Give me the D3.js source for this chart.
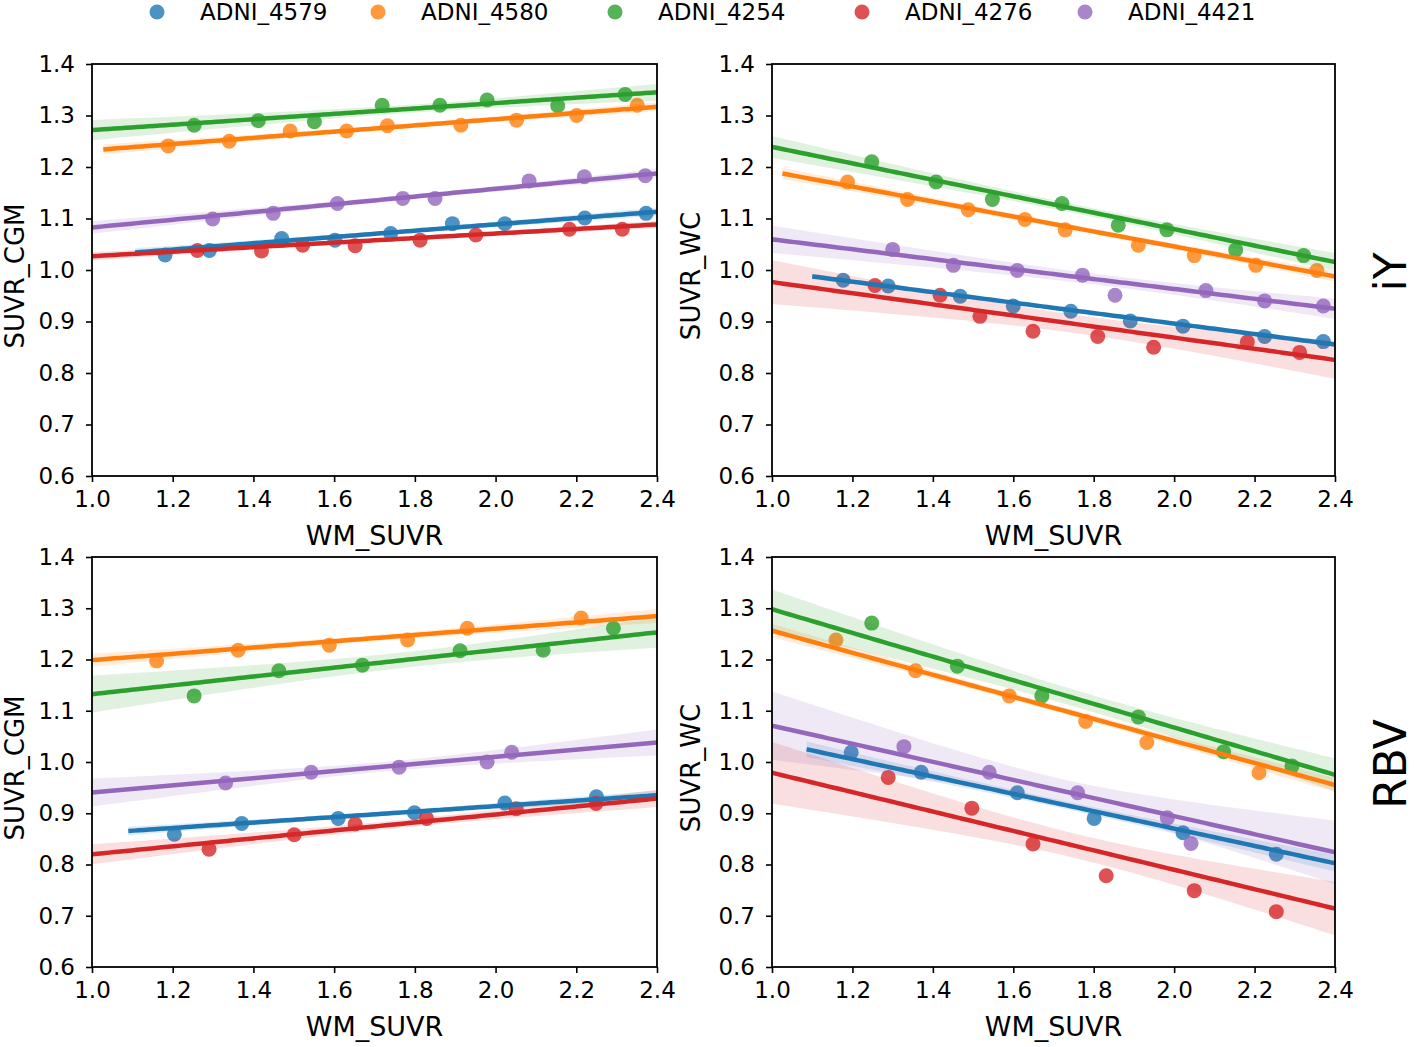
<!DOCTYPE html>
<html><head><meta charset="utf-8">
<script src="https://cdn.jsdelivr.net/npm/d3@7"></script>
<style>body{margin:0;background:#fff} text{font-family:"DejaVu Sans",sans-serif;fill:#000}</style>
</head><body><svg id="c" width="1418" height="1047"></svg>
<script>
const seriesNames = ["ADNI_4579","ADNI_4580","ADNI_4254","ADNI_4276","ADNI_4421"];
const seriesColors = ["#1f77b4","#ff7f0e","#2ca02c","#d62728","#9467bd"];
const xTicks = [1.0,1.2,1.4,1.6,1.8,2.0,2.2,2.4];
const yTicks = [0.6,0.7,0.8,0.9,1.0,1.1,1.2,1.3,1.4];
const xLabel = "WM_SUVR";
const yLabels = ["SUVR_CGM","SUVR_WC"];
const rowLabels = ["iY","RBV"];

// scatter points [WM_SUVR, SUVR] per series (order as seriesNames)
const iyCgmPoints = [
  [[1.181,1.029],[1.291,1.038],[1.470,1.061],[1.602,1.058],[1.740,1.071],[1.893,1.090],[2.023,1.090],[2.221,1.101],[2.373,1.110]],
  [[1.189,1.241],[1.340,1.250],[1.491,1.270],[1.631,1.270],[1.732,1.280],[1.914,1.281],[2.052,1.291],[2.201,1.300],[2.351,1.320]],
  [[1.253,1.281],[1.412,1.290],[1.551,1.288],[1.719,1.320],[1.862,1.320],[1.979,1.330],[2.154,1.319],[2.321,1.341]],
  [[1.261,1.038],[1.420,1.037],[1.522,1.048],[1.652,1.047],[1.813,1.058],[1.951,1.068],[2.183,1.079],[2.314,1.079]],
  [[1.299,1.099],[1.449,1.110],[1.608,1.129],[1.770,1.139],[1.850,1.139],[2.083,1.173],[2.220,1.181],[2.371,1.183]]
];
const iyWcPoints = [
  [[1.177,0.980],[1.289,0.969],[1.468,0.949],[1.600,0.930],[1.743,0.920],[1.891,0.901],[2.022,0.891],[2.225,0.871],[2.371,0.861]],
  [[1.188,1.171],[1.337,1.137],[1.488,1.117],[1.629,1.098],[1.729,1.078],[1.911,1.048],[2.050,1.028],[2.203,1.009],[2.355,0.999]],
  [[1.248,1.210],[1.408,1.171],[1.548,1.137],[1.721,1.129],[1.861,1.087],[1.982,1.078],[2.153,1.039],[2.322,1.028]],
  [[1.256,0.970],[1.418,0.951],[1.517,0.910],[1.649,0.881],[1.810,0.871],[1.949,0.850],[2.182,0.860],[2.312,0.840]],
  [[1.300,1.040],[1.451,1.009],[1.610,0.999],[1.772,0.990],[1.853,0.951],[2.079,0.960],[2.225,0.940],[2.371,0.930]]
];
const rbvCgmPoints = [
  [[1.204,0.859],[1.371,0.880],[1.610,0.890],[1.799,0.901],[2.023,0.920],[2.250,0.932]],
  [[1.160,1.197],[1.362,1.218],[1.588,1.228],[1.782,1.238],[1.930,1.261],[2.212,1.281]],
  [[1.253,1.129],[1.463,1.178],[1.670,1.189],[1.912,1.217],[2.118,1.218],[2.292,1.261]],
  [[1.290,0.830],[1.501,0.858],[1.652,0.879],[1.829,0.890],[2.051,0.909],[2.249,0.919]],
  [[1.331,0.959],[1.543,0.980],[1.761,0.990],[1.979,1.000],[2.040,1.019]]
];
const rbvWcPoints = [
  [[1.197,1.019],[1.371,0.980],[1.610,0.940],[1.801,0.890],[2.022,0.862],[2.254,0.820]],
  [[1.159,1.238],[1.357,1.178],[1.590,1.129],[1.780,1.079],[1.932,1.038],[2.211,0.979]],
  [[1.248,1.271],[1.461,1.187],[1.671,1.129],[1.911,1.088],[2.123,1.020],[2.293,0.992]],
  [[1.289,0.970],[1.497,0.910],[1.649,0.840],[1.831,0.778],[2.050,0.749],[2.254,0.708]],
  [[1.328,1.030],[1.540,0.980],[1.760,0.940],[1.983,0.891],[2.042,0.841]]
];

// regression fits: [line start WM_SUVR, intercept, slope]
const iyCgmFit = [[1.107,0.9664,0.0611],[1.028,1.1722,0.0603],[1.0,1.2193,0.0524],[1.0,0.9828,0.044],[1.0,1.0076,0.075]];
const iyWcFit = [[1.10,1.0994,-0.1017],[1.026,1.3365,-0.1454],[1.0,1.3987,-0.1597],[1.0,1.0844,-0.1079],[1.0,1.1558,-0.0963]];
const rbvCgmFit = [[1.09,0.8073,0.0533],[1.0,1.1374,0.0614],[1.0,1.0463,0.0861],[1.0,0.7422,0.0777],[1.0,0.8706,0.0698]];
const rbvWcFit = [[1.086,1.2087,-0.1693],[1.0,1.4713,-0.2151],[1.0,1.5287,-0.2307],[1.0,1.1683,-0.1893],[1.0,1.2474,-0.1765]];

const xDomain = [1.0, 2.4];
const yDomain = [0.6, 1.4];

const panels = [
  {points: iyCgmPoints, fit: iyCgmFit, row: 0, col: 0},
  {points: iyWcPoints, fit: iyWcFit, row: 0, col: 1},
  {points: rbvCgmPoints, fit: rbvCgmFit, row: 1, col: 0},
  {points: rbvWcPoints, fit: rbvWcFit, row: 1, col: 1}
];

const colX = [[92,657],[772,1335]];
const rowY = [[64,476],[557,967]];

const svg = d3.select("#c");
const tTable = {1:12.706,2:4.303,3:3.182,4:2.776,5:2.571,6:2.447,7:2.365,8:2.306,9:2.262};

function ciHalf(pts) {
  const n = pts.length;
  const xb = d3.mean(pts, d => d[0]), yb = d3.mean(pts, d => d[1]);
  const sxx = d3.sum(pts, d => (d[0]-xb)**2);
  const sxy = d3.sum(pts, d => (d[0]-xb)*(d[1]-yb));
  const b = sxy/sxx, a = yb - b*xb;
  const sse = d3.sum(pts, d => (d[1]-(a+b*d[0]))**2);
  const s = Math.sqrt(sse/(n-2));
  const t = tTable[n-2] || 2.0;
  return x => t*s*Math.sqrt(1/n + (x-xb)**2/sxx);
}

panels.forEach((p, pi) => {
  const x = d3.scaleLinear().domain(xDomain).range(colX[p.col]);
  const y = d3.scaleLinear().domain(yDomain).range([rowY[p.row][1], rowY[p.row][0]]);
  const g = svg.append("g");
  const clipId = "clip" + pi;
  svg.append("clipPath").attr("id", clipId).append("rect")
    .attr("x", colX[p.col][0]).attr("y", rowY[p.row][0])
    .attr("width", colX[p.col][1]-colX[p.col][0]).attr("height", rowY[p.row][1]-rowY[p.row][0]);
  const plot = g.append("g").attr("clip-path", `url(#${clipId})`);
  const lineLayer = [];
  p.points.forEach((pts, si) => {
    const col = seriesColors[si];
    plot.append("g").selectAll("circle").data(pts).join("circle")
      .attr("cx", d => x(d[0])).attr("cy", d => y(d[1])).attr("r", 7.5)
      .attr("fill", col).attr("fill-opacity", 0.8);
    const [x0, a, b] = p.fit[si];
    const hw = ciHalf(pts);
    const grid = d3.range(0, 101).map(k => x0 + (xDomain[1]-x0)*k/100);
    const area = d3.area().x(d => x(d)).y0(d => y(a+b*d - hw(d))).y1(d => y(a+b*d + hw(d)));
    plot.append("path").attr("d", area(grid)).attr("fill", col).attr("fill-opacity", 0.15);
    lineLayer.push({grid, a, b, col});
  });
  lineLayer.forEach(l => {
    plot.append("path").attr("d", d3.line().x(d => x(d)).y(d => y(l.a + l.b*d))(l.grid))
      .attr("fill", "none").attr("stroke", l.col).attr("stroke-width", 4.5);
  });
  // axes
  const xAxis = d3.axisBottom(x).tickValues(xTicks).tickFormat(d3.format(".1f")).tickSize(6).tickPadding(9);
  const yAxis = d3.axisLeft(y).tickValues(yTicks).tickFormat(d3.format(".1f")).tickSize(6).tickPadding(11);
  const gx = g.append("g").attr("transform", `translate(0,${rowY[p.row][1]})`).call(xAxis);
  const gy = g.append("g").attr("transform", `translate(${colX[p.col][0]},0)`).call(yAxis);
  [gx, gy].forEach(ax => {
    ax.select(".domain").remove();
    ax.selectAll(".tick line").attr("stroke", "#000").attr("stroke-width", 1.6);
    ax.selectAll(".tick text").attr("font-size", 23).attr("font-family", "DejaVu Sans").attr("fill", "#000");
  });
  g.append("rect").attr("x", colX[p.col][0]).attr("y", rowY[p.row][0])
    .attr("width", colX[p.col][1]-colX[p.col][0]).attr("height", rowY[p.row][1]-rowY[p.row][0])
    .attr("fill", "none").attr("stroke", "#000").attr("stroke-width", 1.8);
  // labels
  g.append("text").attr("x", (colX[p.col][0]+colX[p.col][1])/2).attr("y", rowY[p.row][1] + 69)
    .attr("text-anchor", "middle").attr("font-size", 27).text(xLabel);
  g.append("text").attr("transform", `translate(${colX[p.col][0] - (p.col === 0 ? 68 : 72)},${(rowY[p.row][0]+rowY[p.row][1])/2 + 6}) rotate(-90)`)
    .attr("text-anchor", "middle").attr("font-size", 26).text(yLabels[p.col]);
});

rowLabels.forEach((lab, ri) => {
  svg.append("text").attr("transform", `translate(1406,${(rowY[ri][0]+rowY[ri][1])/2 + 2}) rotate(-90)`)
    .attr("text-anchor", "middle").attr("font-size", 44).text(lab);
});

// legend
const legendX = [157, 378, 615, 862, 1085];
const leg = svg.append("g");
seriesNames.forEach((nm, i) => {
  leg.append("circle").attr("cx", legendX[i]).attr("cy", 12).attr("r", 7.5)
    .attr("fill", seriesColors[i]).attr("fill-opacity", 0.8);
  leg.append("text").attr("x", legendX[i] + 43).attr("y", 20).attr("font-size", 23).text(nm);
});
</script></body></html>
